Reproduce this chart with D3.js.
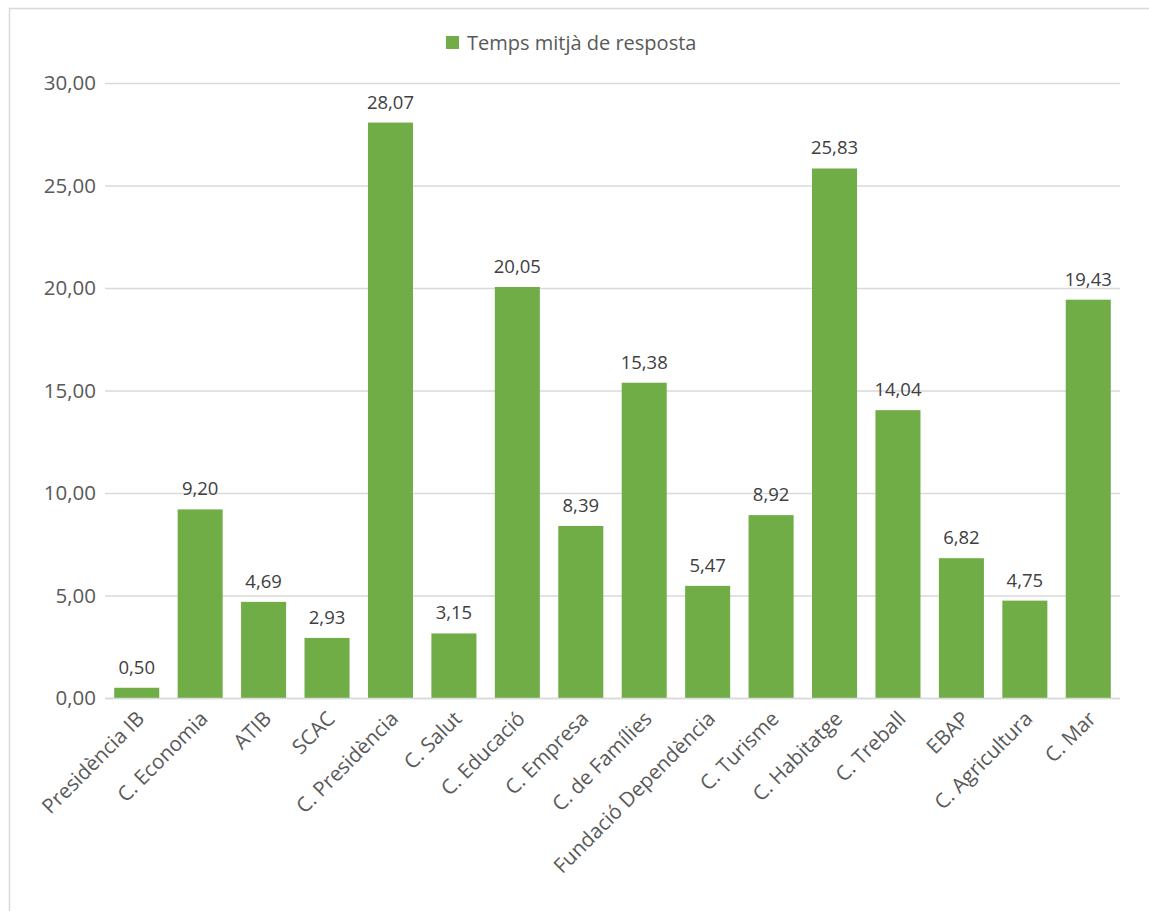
<!DOCTYPE html>
<html>
<head>
<meta charset="utf-8">
<script src="https://cdn.jsdelivr.net/npm/d3@7"></script>
<style>
  html, body { margin: 0; padding: 0; background: #ffffff; }
  svg { display: block; font-family: "Open Sans", "Noto Sans", sans-serif; }
</style>
</head>
<body>
<svg id="chart" width="1149" height="911"></svg>
<script>
// Average response time per department
const categories = [
  "Presidència IB", "C. Economia", "ATIB", "SCAC", "C. Presidència",
  "C. Salut", "C. Educació", "C. Empresa", "C. de Famílies",
  "Fundació Dependència", "C. Turisme", "C. Habitatge", "C. Treball",
  "EBAP", "C. Agricultura", "C. Mar"
];
const responseTimes = [
  0.50, 9.20, 4.69, 2.93, 28.07, 3.15, 20.05, 8.39, 15.38,
  5.47, 8.92, 25.83, 14.04, 6.82, 4.75, 19.43
];
const yTicks = [0, 5, 10, 15, 20, 25, 30];
const seriesName = "Temps mitjà de resposta";

const barColor = "#70AD47";
const gridColor = "#d9d9d9";
const fontFamily = "'Open Sans', 'Noto Sans', sans-serif";

const svg = d3.select("#chart");

// outer chart frame
svg.append("rect")
  .attr("x", 9.5).attr("y", 8.5)
  .attr("width", 1160).attr("height", 920)
  .attr("fill", "none")
  .attr("stroke", gridColor)
  .attr("stroke-width", 1.5);

const plot = { left: 105, right: 1120, top: 83, bottom: 698 };

const x = d3.scaleBand()
  .domain(categories)
  .range([plot.left, plot.right])
  .paddingInner(0.29)
  .paddingOuter(0.145);

const y = d3.scaleLinear()
  .domain([0, 30])
  .range([plot.bottom, plot.top]);

const fmt = v => d3.format(".2f")(v).replace(".", ",");

// horizontal gridlines + y labels
const yAxis = d3.axisLeft(y)
  .tickValues(yTicks)
  .tickFormat(fmt)
  .tickSize(-(plot.right - plot.left))
  .tickPadding(9);

const gy = svg.append("g")
  .attr("transform", `translate(${plot.left},0)`)
  .call(yAxis)
  .attr("font-family", fontFamily);
gy.select(".domain").remove();
gy.selectAll(".tick line")
  .attr("stroke", gridColor)
  .attr("stroke-width", 1.3);
gy.selectAll(".tick text")
  .attr("fill", "#595959")
  .attr("font-size", 20.5)
  .attr("dy", "0.34em");

// bars
svg.append("g")
  .selectAll("rect")
  .data(responseTimes)
  .join("rect")
  .attr("x", (d, i) => x(categories[i]))
  .attr("y", d => y(d))
  .attr("width", x.bandwidth())
  .attr("height", d => y(0) - y(d))
  .attr("fill", barColor);

// baseline axis
svg.append("line")
  .attr("x1", plot.left).attr("x2", plot.right)
  .attr("y1", y(0) + 0.5).attr("y2", y(0) + 0.5)
  .attr("stroke", gridColor)
  .attr("stroke-width", 1.5);

// value labels
svg.append("g")
  .selectAll("text")
  .data(responseTimes)
  .join("text")
  .attr("x", (d, i) => x(categories[i]) + x.bandwidth() / 2)
  .attr("y", d => y(d) - 14)
  .attr("text-anchor", "middle")
  .attr("fill", "#404040")
  .attr("font-size", 18.5)
  .text(fmt);

// category labels, rotated
const xAxis = d3.axisBottom(x).tickSize(0).tickPadding(0);
const gx = svg.append("g")
  .attr("transform", `translate(0,${plot.bottom})`)
  .call(xAxis)
  .attr("font-family", fontFamily);
gx.select(".domain").remove();
gx.selectAll(".tick text")
  .attr("fill", "#595959")
  .attr("font-size", 20.5)
  .attr("text-anchor", "end")
  .attr("dy", 0)
  .attr("transform", "translate(9,22) rotate(-45)");

// legend
const legend = svg.append("g").attr("transform", "translate(446,36)");
legend.append("rect")
  .attr("width", 13).attr("height", 13)
  .attr("fill", barColor);
legend.append("text")
  .attr("x", 21).attr("y", 6.5)
  .attr("dy", "0.36em")
  .attr("fill", "#595959")
  .attr("font-size", 20)
  .text(seriesName);
</script>
</body>
</html>
